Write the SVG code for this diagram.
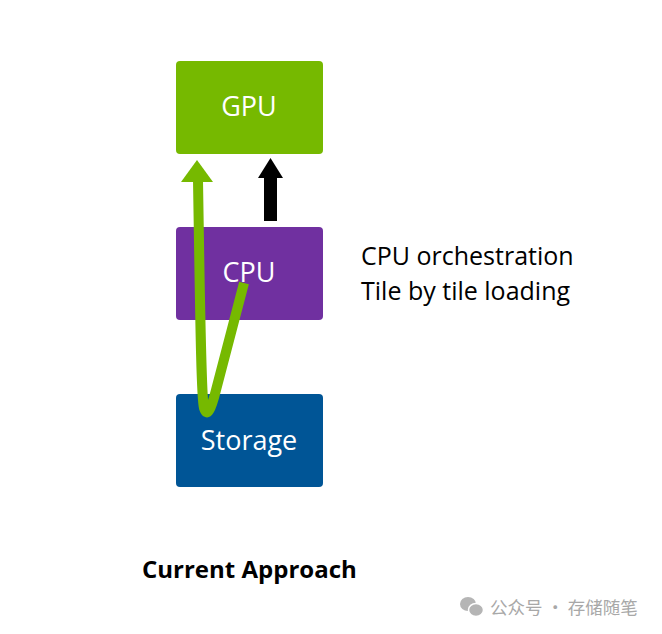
<svg xmlns="http://www.w3.org/2000/svg" width="662" height="634" viewBox="0 0 662 634">
<style>
.box text{font-family:"Open Sans","Liberation Sans",sans-serif;font-size:27px;fill:#fff;text-anchor:middle}
.note{font-family:"Open Sans","Liberation Sans",sans-serif;font-size:25px;fill:#000}
.title{font-family:"Open Sans","Liberation Sans",sans-serif;font-size:24px;font-weight:bold;fill:#000}
.wm{font-family:"Noto Sans CJK SC","Noto Sans",sans-serif;font-size:17.5px;fill:#a8a8a8}
</style>
<rect width="662" height="634" fill="#fff"/>
<g id="gpu" class="box"><rect x="176" y="61" width="147" height="93" rx="4" fill="#76b900"/><text x="249" y="116">GPU</text></g>
<g id="cpu" class="box"><rect x="176" y="227" width="147" height="93" rx="4" fill="#7030a0"/><text x="249" y="282">CPU</text></g>
<g id="storage" class="box"><rect x="176" y="394" width="147" height="93" rx="4" fill="#005596"/><text x="249" y="450">Storage</text></g>
<g id="connectors">
<polygon points="264,221 277,221 277,178 283,178 270.5,158 258,178 264,178" fill="#000"/>
<path d="M244,283 L216,390 C211,410 207,418 204,408 C201,398 200,300 198,180" fill="none" stroke="#76b900" stroke-width="10" stroke-linejoin="round"/>
<polygon points="181,182 213,182 197,160" fill="#76b900"/>
</g>
<g id="notes">
<text class="note" x="361" y="265">CPU orchestration</text>
<text class="note" x="361" y="300">Tile by tile loading</text>
<text class="title" x="142" y="578">Current Approach</text>
</g>
<g id="watermark">
<ellipse cx="468" cy="604" rx="8" ry="7" fill="#b5b5b5"/>
<ellipse cx="476" cy="610" rx="7.5" ry="6.5" fill="#b5b5b5" stroke="#fff" stroke-width="1.5"/>
<text class="wm" x="490" y="614">公众号 · 存储随笔</text>
</g>
</svg>
